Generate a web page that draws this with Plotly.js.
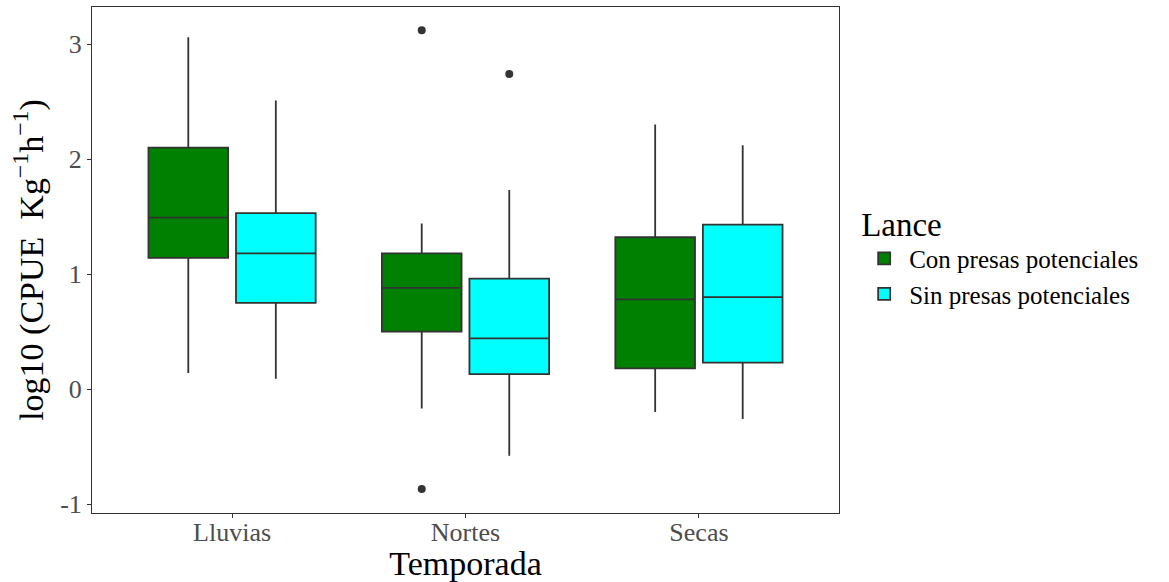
<!DOCTYPE html>
<html><head><meta charset="utf-8">
<script src="https://cdn.plot.ly/plotly-3.0.1.min.js"></script>
<style>body{margin:0;background:#fff}#chart{width:1169px;height:582px}</style>
</head><body><div id="chart"></div>
<script>
const categories = ["Lluvias", "Nortes", "Secas"];
const seriesNames = ["Con presas potenciales", "Sin presas potenciales"];
const colors = ["#008000", "#00FFFF"];
// Con presas potenciales
const conLower  = [0.14, -0.17, -0.20];
const conQ1     = [1.14, 0.50, 0.18];
const conMedian = [1.49, 0.88, 0.78];
const conQ3     = [2.10, 1.18, 1.32];
const conUpper  = [3.06, 1.44, 2.30];
const conOutlierCat = ["Nortes", "Nortes"];
const conOutlierVal = [3.12, -0.87];
// Sin presas potenciales
const sinLower  = [0.09, -0.58, -0.26];
const sinQ1     = [0.75, 0.13, 0.23];
const sinMedian = [1.18, 0.44, 0.80];
const sinQ3     = [1.53, 0.96, 1.43];
const sinUpper  = [2.51, 1.73, 2.12];
const sinOutlierCat = ["Nortes"];
const sinOutlierVal = [2.74];
const yTicks = [-1, 0, 1, 2, 3];

const BOXGAP = 0.25, BOXGROUPGAP = 0.09;
const slot = (1 - BOXGAP) / 2;

function boxTrace(name, color, lo, q1, med, q3, up) {
  return {
    type: "box", name: name, x: categories,
    q1: q1, median: med, q3: q3, lowerfence: lo, upperfence: up,
    boxpoints: false,
    fillcolor: color,
    line: {color: "#333333", width: 1.8},
    whiskerwidth: 0,
    hoverinfo: "skip"
  };
}
function outlierTrace(cats, vals, groupIndex) {
  const off = (groupIndex - 0.5) * slot;
  return {
    type: "scatter", mode: "markers", xaxis: "x2", yaxis: "y",
    x: cats.map(c => categories.indexOf(c) + off), y: vals,
    marker: {color: "#333333", size: 8},
    showlegend: false, hoverinfo: "skip"
  };
}

const data = [
  boxTrace(seriesNames[0], colors[0], conLower, conQ1, conMedian, conQ3, conUpper),
  boxTrace(seriesNames[1], colors[1], sinLower, sinQ1, sinMedian, sinQ3, sinUpper),
  outlierTrace(conOutlierCat, conOutlierVal, 0),
  outlierTrace(sinOutlierCat, sinOutlierVal, 1)
];

const font = "Liberation Serif, Times New Roman, serif";
const xRange = [-0.6, 2.6];
const layout = {
  width: 1169, height: 582,
  margin: {l: 92, r: 330, t: 7, b: 69, autoexpand: false},
  paper_bgcolor: "#fff", plot_bgcolor: "#fff",
  boxmode: "group", boxgap: BOXGAP, boxgroupgap: BOXGROUPGAP,
  font: {family: font, color: "#000"},
  xaxis: {
    type: "category", range: xRange, automargin: false,
    showline: true, mirror: true, linecolor: "#333333", linewidth: 1,
    ticks: "outside", ticklen: 4, tickcolor: "#333333", ticklabelstandoff: -8,
    showgrid: false, zeroline: false,
    tickfont: {family: font, size: 26, color: "#4D4D4D"},
    title: {text: "Temporada", font: {family: font, size: 34, color: "#000"}, standoff: 0}
  },
  xaxis2: {
    overlaying: "x", range: xRange, visible: false, showgrid: false, zeroline: false
  },
  yaxis: {
    range: [-1.078, 3.322], tickvals: yTicks, ticktext: yTicks.map(String), automargin: false,
    showline: true, mirror: true, linecolor: "#333333", linewidth: 1,
    ticks: "outside", ticklen: 4, tickcolor: "#333333",
    showgrid: false, zeroline: false,
    tickfont: {family: font, size: 26, color: "#4D4D4D"},
    title: {text: "log10 (CPUE  Kg<sup>\u22121</sup>h<sup>\u22121</sup>)", font: {family: font, size: 34, color: "#000"}, standoff: 6}
  },
  legend: {
    x: 1.027, xanchor: "left", y: 0.633, yanchor: "top",
    font: {family: font, size: 25, color: "#000"},
    title: {text: "Lance", font: {family: font, size: 33, color: "#000"}},
    tracegroupgap: 0, itemwidth: 40
  },
  showlegend: true
};

Plotly.newPlot("chart", data, layout, {staticPlot: true, displayModeBar: false});
</script>
</body></html>
